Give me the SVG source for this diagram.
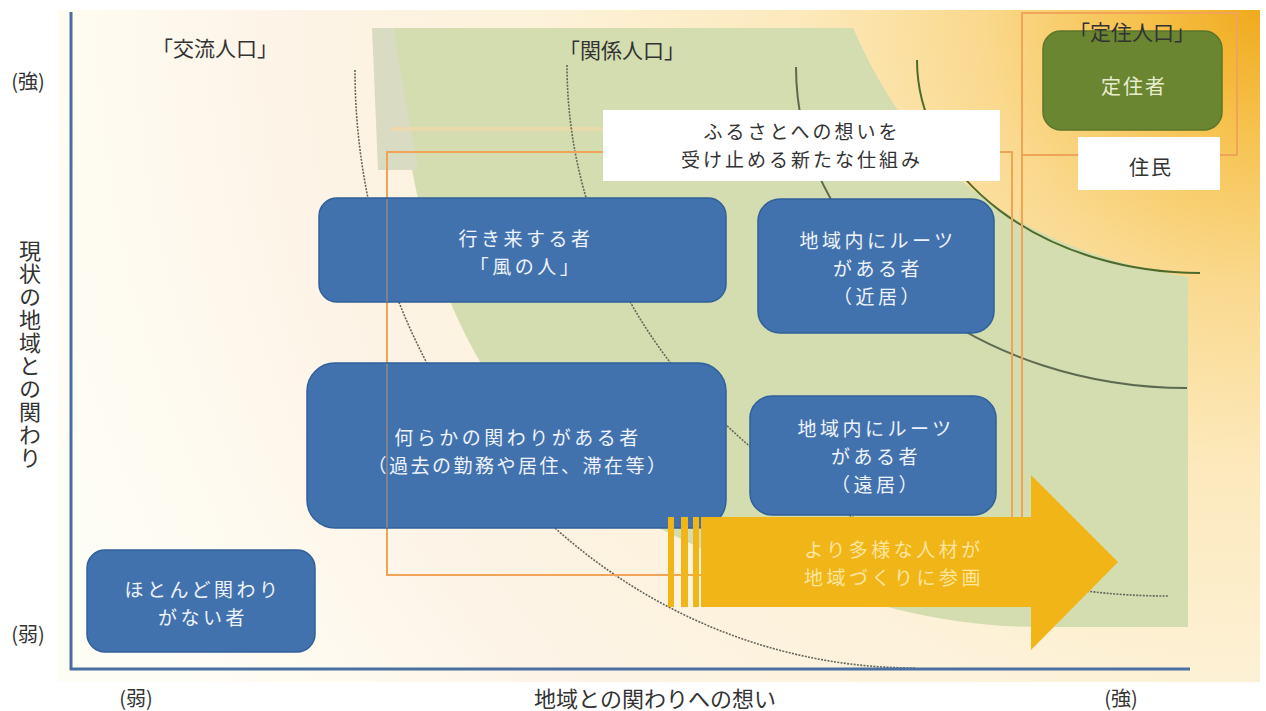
<svg xmlns="http://www.w3.org/2000/svg" width="1266" height="711" viewBox="0 0 1266 711">
<defs>
<radialGradient id="bg" gradientUnits="userSpaceOnUse" cx="1266" cy="0" r="1300">
<stop offset="0" stop-color="#f0a818"/>
<stop offset="0.1" stop-color="#f6c24e"/>
<stop offset="0.22" stop-color="#fad98e"/>
<stop offset="0.36" stop-color="#fce9bc"/>
<stop offset="0.55" stop-color="#fdf2d9"/>
<stop offset="0.75" stop-color="#fdf3e6"/>
<stop offset="0.88" stop-color="#fefaef"/>
<stop offset="1" stop-color="#fefdf5"/>
</radialGradient>
<style>
.t{font-family:"Noto Sans CJK JP","Noto Sans",sans-serif;}
.lbl{font-size:21px;fill:#333333;}
.ax{font-size:20px;fill:#333333;text-anchor:middle;dominant-baseline:central;}
.box{fill:#4272ad;stroke:#30609a;stroke-width:1.5;}
.bt{font-size:19px;fill:#eef3fb;text-anchor:middle;dominant-baseline:central;letter-spacing:3.5px;}
.dt{font-size:19px;fill:#333333;text-anchor:middle;dominant-baseline:central;letter-spacing:3px;}
.at{font-size:19px;fill:#fbe6a0;text-anchor:middle;dominant-baseline:central;letter-spacing:3.5px;}
.dot{fill:none;stroke:#66665c;stroke-width:1.6;stroke-dasharray:2 1.3;}
.sol{fill:none;stroke-width:2;}
.orl{fill:none;stroke:#efa458;stroke-width:2;}
.arw{fill:#f2b517;}
</style>
</defs>
<rect x="0" y="0" width="1266" height="711" fill="#ffffff"/>
<rect x="58" y="10" width="1202" height="672" fill="url(#bg)"/>
<g id="zones">
<path d="M393,28 L853,28 C890,110 960,240 1188,277 L1188,627 L1040,627 Q960,627 880,605 C500,520 420,330 393,28 Z" fill="#d3ddb0"/>
<path d="M372,28 L393,28 L418,170 L378,170 Z" fill="#d9dbc3"/>
<line x1="390" y1="129" x2="603" y2="129" stroke="#f7d9a8" stroke-width="4" opacity="0.6"/>
</g>
<g id="connectors">
<path class="dot" d="M355,70 A560,598 0 0 0 915,668"/>
<path class="dot" d="M567,65 A601,531 0 0 0 1168,596"/>
<path class="sol" stroke="#5d6a50" d="M796,67 A391,321 0 0 0 1187,388"/>
<path class="sol" stroke="#4f6b2a" stroke-width="2.4" d="M917,60 A283,213 0 0 0 1200,273"/>
</g>
<g id="frames">
<rect class="orl" x="387" y="152" width="625" height="423"/>
<rect class="orl" x="1022" y="13" width="215" height="142"/>
<line class="orl" x1="1022" y1="155" x2="1022" y2="517"/>
</g>
<g id="axes">
<line x1="71" y1="12" x2="71" y2="670" stroke="#4a6fa0" stroke-width="3"/>
<line x1="70" y1="669" x2="1190" y2="669" stroke="#4a6fa0" stroke-width="3"/>
<text class="t ax" x="28" y="80">(強)</text>
<text class="t ax" x="28" y="633">(弱)</text>
<text class="t ax" x="136" y="697">(弱)</text>
<text class="t ax" x="1121" y="697">(強)</text>
<text class="t" x="655" y="697" font-size="22" fill="#333333" text-anchor="middle" dominant-baseline="central">地域との関わりへの想い</text>
<text class="t" x="30" y="240" font-size="22" fill="#333333" letter-spacing="1" style="writing-mode:vertical-rl;text-orientation:upright">現状の地域との関わり</text>
</g>
<g id="labels">
<text class="t lbl" x="215" y="47" text-anchor="middle" dominant-baseline="central">「交流人口」</text>
<text class="t lbl" x="622" y="49" text-anchor="middle" dominant-baseline="central">「関係人口」</text>
</g>
<g id="node-mechanism">
<rect x="603" y="110" width="397" height="71" fill="#ffffff"/>
<text class="t dt" x="802" y="130">ふるさとへの想いを</text>
<text class="t dt" x="802" y="158">受け止める新たな仕組み</text>
</g>
<g id="node-teijusha">
<rect x="1043" y="31" width="179" height="99" rx="18" fill="#6a8630" stroke="#5c7628" stroke-width="1.5"/>
<text class="t" x="1134" y="85" font-size="20" letter-spacing="2" fill="#e8edd2" text-anchor="middle" dominant-baseline="central">定住者</text>
<text class="t lbl" x="1132" y="31" text-anchor="middle" dominant-baseline="central">「定住人口」</text>
</g>
<g id="node-jumin">
<rect x="1078" y="137" width="142" height="53" fill="#ffffff"/>
<text class="t" x="1151" y="166" font-size="20" letter-spacing="2" fill="#333333" text-anchor="middle" dominant-baseline="central">住民</text>
</g>
<g id="node-kaze">
<rect class="box" x="319" y="198" width="407" height="104" rx="18"/>
<text class="t bt" x="526" y="237">行き来する者</text>
<text class="t bt" x="526" y="265">「風の人」</text>
</g>
<g id="node-kinkyo">
<rect class="box" x="758" y="199" width="236" height="134" rx="22"/>
<text class="t bt" x="878" y="239">地域内にルーツ</text>
<text class="t bt" x="878" y="267">がある者</text>
<text class="t bt" x="878" y="295">（近居）</text>
</g>
<g id="node-kakawari">
<rect class="box" x="307" y="363" width="419" height="165" rx="28"/>
<text class="t bt" x="518" y="436">何らかの関わりがある者</text>
<text class="t" x="518" y="464" font-size="19" letter-spacing="2.5" fill="#eef3fb" text-anchor="middle" dominant-baseline="central">（過去の勤務や居住、滞在等）</text>
</g>
<g id="node-enkyo">
<rect class="box" x="750" y="396" width="246" height="119" rx="22"/>
<text class="t bt" x="876" y="427">地域内にルーツ</text>
<text class="t bt" x="876" y="455">がある者</text>
<text class="t bt" x="876" y="483">（遠居）</text>
</g>
<g id="node-nashi">
<rect class="box" x="87" y="550" width="228" height="102" rx="18"/>
<text class="t bt" x="203" y="588">ほとんど関わり</text>
<text class="t bt" x="203" y="616">がない者</text>
</g>
<g id="frame-overlay">
<line x1="387" y1="199" x2="387" y2="302" stroke="#efa458" stroke-width="2" opacity="0.35"/>
<line x1="387" y1="364" x2="387" y2="528" stroke="#efa458" stroke-width="2" opacity="0.35"/>
</g>
<g id="node-arrow">
<rect class="arw" x="668" y="517" width="6" height="90"/>
<rect class="arw" x="681" y="517" width="7" height="90"/>
<rect class="arw" x="693" y="517" width="6" height="90"/>
<polygon class="arw" points="701,517 1031,517 1031,475 1118,562 1031,650 1031,607 701,607"/>
<text class="t at" x="894" y="548">より多様な人材が</text>
<text class="t at" x="894" y="576">地域づくりに参画</text>
</g>
</svg>
